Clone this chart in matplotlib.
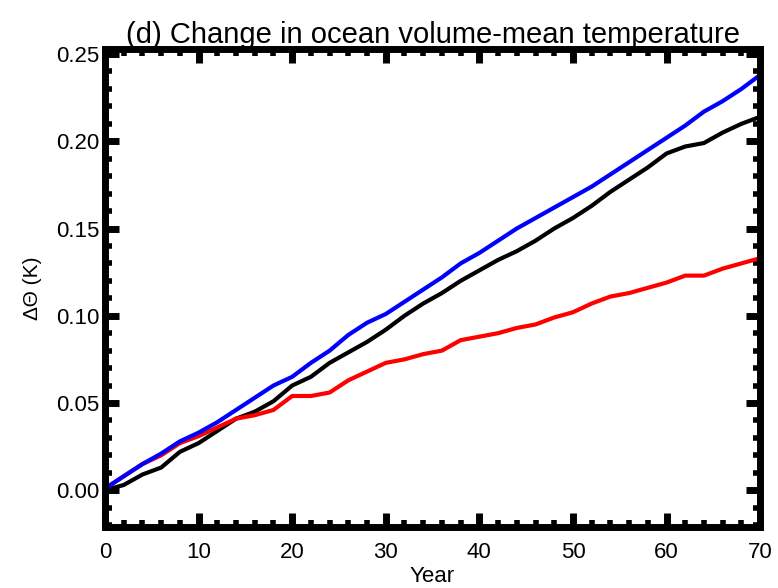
import matplotlib
matplotlib.use('Agg')
import matplotlib.pyplot as plt
from matplotlib.ticker import MultipleLocator

plt.rcParams['font.family'] = ['Liberation Sans', 'DejaVu Sans']

years = list(range(0, 71, 2))

# change in volume-mean temperature (K), every 2 years
black_vals = [0.000, 0.003, 0.009, 0.013, 0.022, 0.027, 0.034, 0.041, 0.045,
              0.051, 0.060, 0.065, 0.073, 0.079, 0.085, 0.092, 0.100, 0.107,
              0.113, 0.120, 0.126, 0.132, 0.137, 0.143, 0.150, 0.156, 0.163,
              0.171, 0.178, 0.185, 0.193, 0.197, 0.199, 0.205, 0.210, 0.214]
red_vals = [0.001, 0.008, 0.015, 0.020, 0.027, 0.031, 0.036, 0.041, 0.043,
            0.046, 0.054, 0.054, 0.056, 0.063, 0.068, 0.073, 0.075, 0.078,
            0.080, 0.086, 0.088, 0.090, 0.093, 0.095, 0.099, 0.102, 0.107,
            0.111, 0.113, 0.116, 0.119, 0.123, 0.123, 0.127, 0.130, 0.133]
blue_vals = [0.001, 0.008, 0.015, 0.021, 0.028, 0.033, 0.039, 0.046, 0.053,
             0.060, 0.065, 0.073, 0.080, 0.089, 0.096, 0.101, 0.108, 0.115,
             0.122, 0.130, 0.136, 0.143, 0.150, 0.156, 0.162, 0.168, 0.174,
             0.181, 0.188, 0.195, 0.202, 0.209, 0.217, 0.223, 0.230, 0.238]

fig = plt.figure(figsize=(7.78, 5.88), dpi=100)
ax = fig.add_axes([0.135, 0.104, 0.842, 0.813])

ax.plot(years, black_vals, color='black', lw=3)
ax.plot(years, red_vals, color='#ff0000', lw=3)
ax.plot(years, blue_vals, color='#0000ff', lw=3)

ax.set_xlim(0, 70)
ax.set_ylim(-0.021, 0.253)
ax.xaxis.set_major_locator(MultipleLocator(10))
ax.xaxis.set_minor_locator(MultipleLocator(2))
ax.yaxis.set_major_locator(MultipleLocator(0.05))
ax.yaxis.set_minor_locator(MultipleLocator(0.01))
ax.yaxis.set_major_formatter(plt.FormatStrFormatter('%.2f'))

for s in ax.spines.values():
    s.set_linewidth(5)
ax.tick_params(which='both', direction='in', top=True, right=True,
               labelsize=16, color='black')
ax.tick_params(axis='x', which='major', length=10, width=5, pad=11)
ax.tick_params(axis='y', which='major', length=10, width=5, pad=4)
ax.tick_params(which='minor', length=5, width=4)

ax.set_title('(d) Change in ocean volume-mean temperature', fontsize=21, pad=4)
ax.set_xlabel('Year', fontsize=16, labelpad=2)
ax.set_ylabel('ΔΘ (K)', fontsize=15, labelpad=10)

fig.savefig('out.png', dpi=100)
